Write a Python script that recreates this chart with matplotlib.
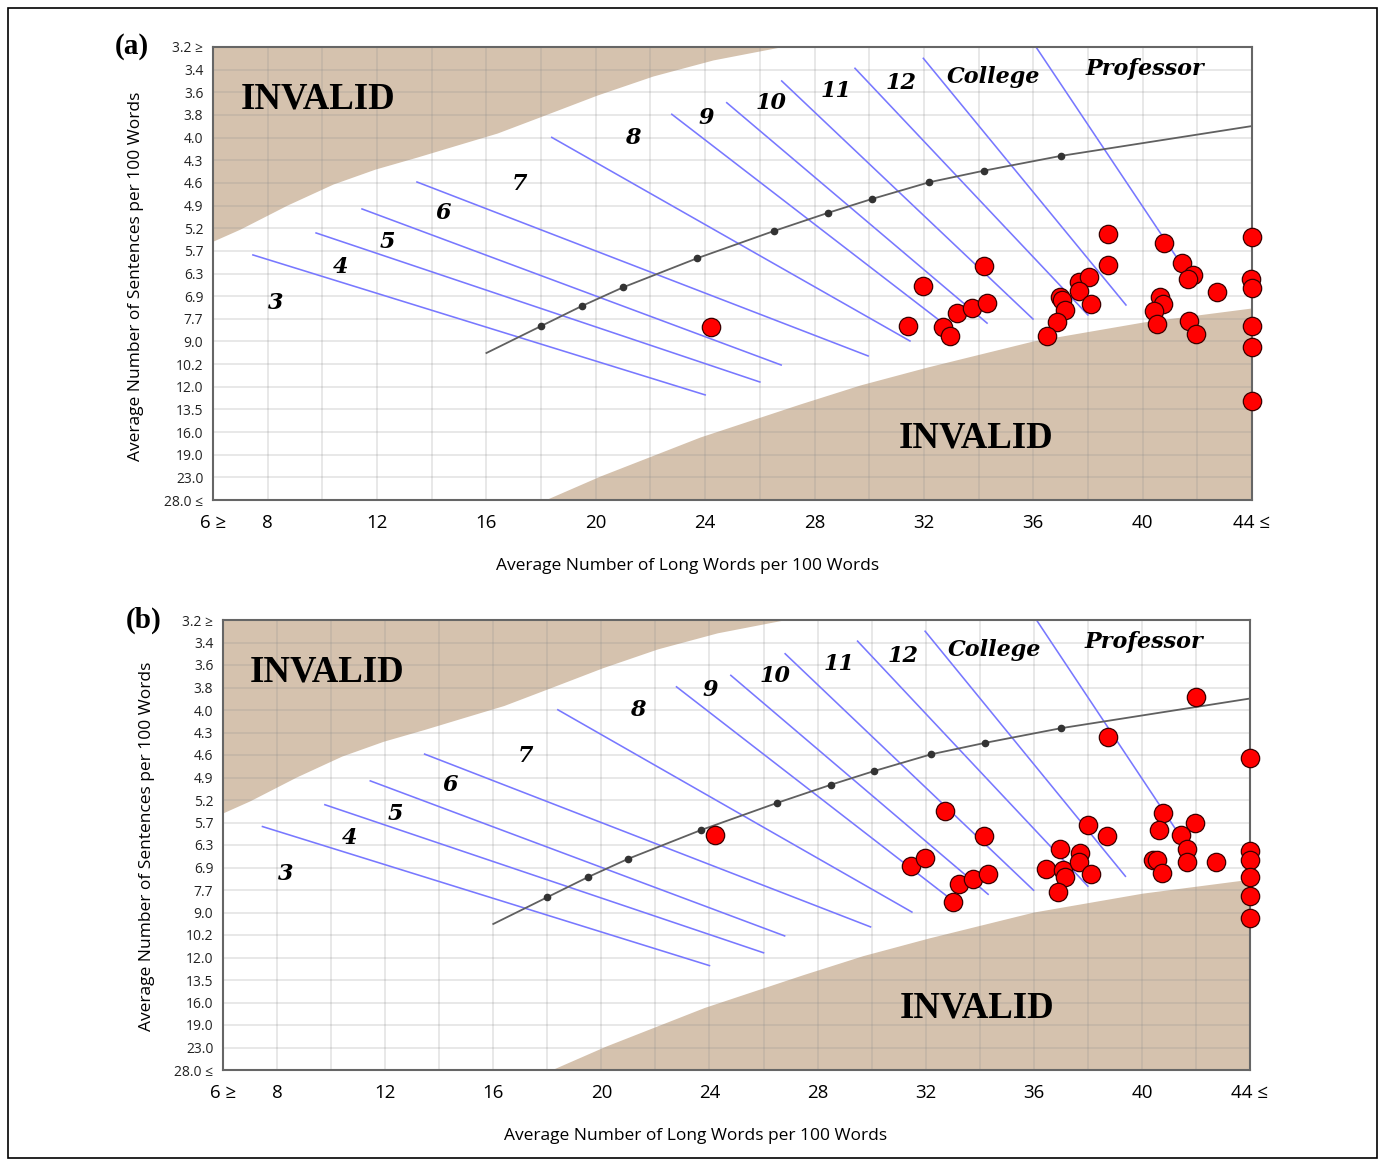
import numpy as np
import matplotlib; matplotlib.use("Agg")
import matplotlib.pyplot as plt
from matplotlib.patches import Rectangle

# y axis is drawn in grid rows (0 = top row "3.2", 20 = bottom row "28.0")
Y_LABELS = ["3.2 ≥", "3.4", "3.6", "3.8", "4.0", "4.3", "4.6", "4.9", "5.2", "5.7", "6.3",
            "6.9", "7.7", "9.0", "10.2", "12.0", "13.5", "16.0", "19.0", "23.0", "28.0 ≤"]
X_TICKS = [6, 8, 12, 16, 20, 24, 28, 32, 36, 40, 44]
X_LABELS = ["6 ≥", "8", "12", "16", "20", "24", "28", "32", "36", "40", "44 ≤"]

# invalid regions (boundary, long words vs row)
TOP_X = [6.0, 6.99, 8.71, 10.39, 11.93, 13.46, 14.92, 16.39, 18.14, 20.05, 22.09, 24.29, 26.74]
TOP_R = [8.57, 8.04, 6.98, 6.05, 5.39, 4.86, 4.33, 3.80, 3.00, 2.12, 1.28, 0.57, 0.0]
BOT_X = [18.14, 20.16, 23.81, 27.47, 29.67, 32.12, 35.99, 40.02, 44.0]
BOT_R = [20.0, 18.94, 17.22, 15.76, 14.92, 14.13, 12.98, 12.14, 11.52]

# grade boundary lines: start (x, row) -> end (x, row)
LINE_X0 = [7.46, 9.77, 11.45, 13.46, 18.39, 22.78, 24.79, 26.80, 29.48, 31.98, 36.10]
LINE_R0 = [9.18, 8.21, 7.15, 5.96, 3.99, 2.97, 2.46, 1.50, 0.94, 0.50, 0.0]
LINE_X1 = [24.0, 26.0, 26.78, 29.96, 31.49, 32.88, 34.31, 35.99, 38.0, 39.39, 41.92]
LINE_R1 = [15.36, 14.79, 14.04, 13.64, 12.98, 12.36, 12.19, 12.01, 11.83, 11.39, 10.51]

# grade labels
GRADES = ["3", "4", "5", "6", "7", "8", "9", "10", "11", "12", "College", "Professor"]
GRADE_X = [8.30, 10.68, 12.36, 14.41, 17.19, 21.36, 24.03, 26.41, 28.79, 31.16, 34.53, 40.09]
GRADE_R = [11.30, 9.71, 8.61, 7.33, 6.05, 4.02, 3.13, 2.47, 1.94, 1.59, 1.32, 0.97]

# centre curve with dots
CURVE_X = [16.0, 18.0, 19.5, 21.0, 23.7, 26.5, 28.5, 30.1, 32.2, 34.2, 37.0, 44.0]
CURVE_R = [13.51, 12.32, 11.43, 10.61, 9.33, 8.13, 7.32, 6.71, 5.97, 5.46, 4.81, 3.49]

# (a) texts
A_X = [24.21, 31.43, 31.96, 32.71, 32.96, 33.22, 33.75, 34.30, 34.18, 36.98, 37.04, 37.16, 36.88,
       36.49, 37.68, 38.04, 37.67, 38.10, 38.72, 38.72, 40.78, 41.43, 41.83, 41.67, 42.73, 40.64,
       40.74, 40.42, 40.52, 41.71, 41.94, 44.0, 43.95, 44.0, 44.0, 44.0, 44.0]
A_R = [12.36, 12.32, 10.55, 12.35, 12.75, 11.73, 11.54, 11.29, 9.66, 11.05, 11.17, 11.61, 12.13,
       12.76, 10.36, 10.17, 10.76, 11.35, 8.26, 9.62, 8.64, 9.55, 10.07, 10.26, 10.80, 11.02,
       11.35, 11.64, 12.24, 12.08, 12.68, 8.40, 10.26, 10.65, 12.32, 13.23, 15.63]
# (b) texts
B_X = [24.20, 32.71, 34.17, 31.44, 31.97, 33.24, 33.76, 34.29, 33.0, 36.97, 36.47, 37.07, 37.15,
       36.90, 37.70, 37.68, 38.10, 38.01, 38.72, 42.02, 38.75, 44.0, 40.79, 40.64, 41.96, 41.44,
       41.67, 41.67, 40.42, 40.57, 40.73, 42.76, 44.0, 44.0, 44.0, 44.0, 44.0]
B_R = [9.56, 8.48, 9.60, 10.93, 10.59, 11.73, 11.51, 11.30, 12.52, 10.18, 11.08, 11.11, 11.44,
       12.08, 10.34, 10.74, 11.30, 9.11, 9.60, 3.41, 5.19, 6.15, 8.59, 9.33, 9.04, 9.56,
       10.19, 10.74, 10.67, 10.67, 11.26, 10.74, 10.25, 10.67, 11.41, 12.27, 13.23]

TAN = "#d5c2ae"
BLUE = "#7878ff"
W, H = 1380, 1160


def fry(ax, xs, rs, tag, xlab_x, ylab_y):
    ax.set_xlim(6, 44); ax.set_ylim(20, 0)
    # invalid zones
    ax.fill_between(TOP_X, 0, TOP_R, color=TAN, lw=0, zorder=0.5)
    ax.fill_between(BOT_X, BOT_R, 20, color=TAN, lw=0, zorder=0.5)
    # grid: every 2 long words, every row
    for gx in range(6, 45, 2):
        ax.axvline(gx, color="#8c8c8c", alpha=0.2, lw=1.4, zorder=1)
    for gr in range(21):
        ax.axhline(gr, color="#8c8c8c", alpha=0.2, lw=1.4, zorder=1)
    for x0, r0, x1, r1 in zip(LINE_X0, LINE_R0, LINE_X1, LINE_R1):
        ax.plot([x0, x1], [r0, r1], color=BLUE, lw=1.15, zorder=2)
    ax.plot(CURVE_X, CURVE_R, color="#606060", lw=1.3, zorder=3)
    ax.plot(CURVE_X[1:-1], CURVE_R[1:-1], "o", color="#333333", ms=4.5, zorder=3)
    ax.scatter(xs, rs, s=175, color="#ff0000", edgecolor="#3a0000", lw=0.9, zorder=5, clip_on=False)
    for g, gx, gr in zip(GRADES, GRADE_X, GRADE_R):
        ax.text(gx, gr, g, ha="center", va="center", fontsize=16, family="DejaVu Serif",
                style="italic", weight="bold", zorder=6)
    ax.text(9.85, 2.3, "INVALID", ha="center", va="center", fontsize=26.5, weight="bold",
            family="Liberation Serif", zorder=6)
    ax.text(33.9, 17.26, "INVALID", ha="center", va="center", fontsize=26.5, weight="bold",
            family="Liberation Serif", zorder=6)
    ax.set_xticks(X_TICKS); ax.set_xticklabels(X_LABELS, fontsize=13.5, family="Open Sans")
    ax.set_yticks(range(21)); ax.set_yticklabels(Y_LABELS, fontsize=10, family="Open Sans", color="#222")
    ax.tick_params(length=0, pad=7)
    ax.tick_params(axis="x", pad=10)
    for s in ax.spines.values():
        s.set_color("#666666"); s.set_linewidth(1.5); s.set_zorder(4)
    ax.set_xlabel("Average Number of Long Words per 100 Words", fontsize=12.5, family="Open Sans")
    ax.set_ylabel("Average Number of Sentences per 100 Words", fontsize=12.5, family="Open Sans")
    ax.xaxis.set_label_coords(xlab_x, -0.128)
    ax.yaxis.set_label_coords(-0.066, ylab_y)
    ax.text(-0.095, 1.0, tag, transform=ax.transAxes, fontsize=21, weight="bold",
            family="Liberation Serif", ha="left", va="center")


fig = plt.figure(figsize=(W / 100, H / 100), dpi=100)
axa = fig.add_axes([213 / W, 1 - 500 / H, 1039 / W, 453 / H])
axb = fig.add_axes([223 / W, 1 - 1070 / H, 1027 / W, 450 / H])
fry(axa, A_X, A_R, "(a)", 0.457, 0.494)
fry(axb, B_X, B_R, "(b)", 0.46, 0.498)
fig.patches.append(Rectangle((8 / W, 2 / H), 1369 / W, 1150 / H, transform=fig.transFigure,
                             fill=False, ec="black", lw=1.2))
fig.savefig("out.png", dpi=100)
